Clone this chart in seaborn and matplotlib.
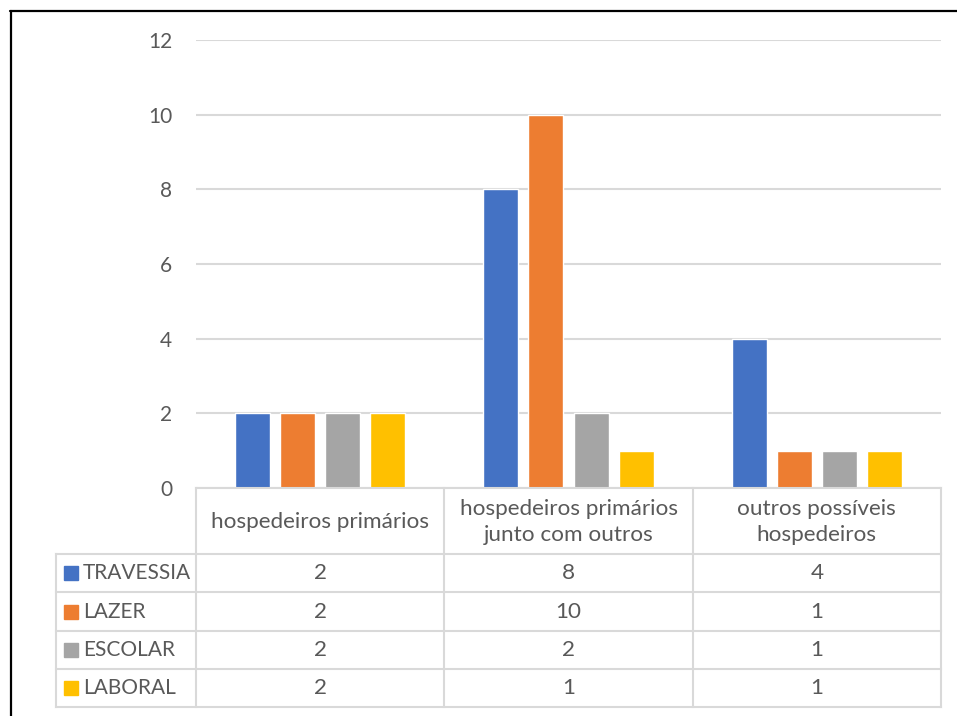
import matplotlib
matplotlib.use("Agg")
import matplotlib.pyplot as plt
import seaborn as sns
import pandas as pd
from matplotlib.lines import Line2D
from matplotlib.patches import Rectangle

# Chart data
categories = ["hospedeiros primários",
              "hospedeiros primários\njunto com outros",
              "outros possíveis\nhospedeiros"]
series = ["TRAVESSIA", "LAZER", "ESCOLAR", "LABORAL"]
travessia = [2, 8, 4]
lazer = [2, 10, 1]
escolar = [2, 2, 1]
laboral = [2, 1, 1]
y_ticks = [0, 2, 4, 6, 8, 10, 12]
colors = ["#4472C4", "#ED7D31", "#A5A5A5", "#FFC000"]

values = [travessia, lazer, escolar, laboral]
df = pd.DataFrame({
    "categoria": [c for _ in series for c in categories],
    "grupo": [s for s in series for _ in categories],
    "valor": [v for vals in values for v in vals],
})

sns.set_style("white")
plt.rcParams["font.family"] = ["Lato", "DejaVu Sans"]

TXT = "#595959"
GRID = "#D9D9D9"
FS = 16.2      # header labels and table values
FS_SMALL = 15  # axis ticks and series names

W, H = 957, 716
fig = plt.figure(figsize=(W / 100, H / 100), dpi=100)

# plot area in pixel terms
L, R, T, B = 196, 941, 40, 488
ax = fig.add_axes([L / W, 1 - B / H, (R - L) / W, (B - T) / H])

sns.barplot(data=df, x="categoria", y="valor", hue="grupo",
            order=categories, hue_order=series, palette=colors,
            saturation=1, width=0.726, gap=0.222, errorbar=None,
            legend=False, ax=ax)

ax.set_xlim(-0.5, len(categories) - 0.5)
ax.set_ylim(0, 12)
ax.set_yticks(y_ticks)
ax.set_yticklabels([str(t) for t in y_ticks], fontsize=FS_SMALL, color=TXT)
ax.tick_params(axis="y", length=0, pad=17)
ax.set_xticks([])
ax.set_xlabel("")
ax.set_ylabel("")
ax.yaxis.grid(True, color=GRID, lw=1.5)
ax.set_axisbelow(True)
for s in ax.spines.values():
    s.set_visible(False)


def ax_x(px):
    return (px - L) / (R - L)


def ax_y(py):
    return (B - py) / (B - T)


# data table below the plot
xt = ax.get_xaxis_transform()
header_bottom = 554
row_edges = [554, 592, 631, 669, 707]
legend_left = 56
line_kw = dict(color=GRID, lw=1.5, clip_on=False, solid_capstyle="projecting")

ax.add_line(Line2D([ax_x(L), ax_x(R)], [ax_y(B), ax_y(B)], transform=ax.transAxes, **line_kw))
for ry in row_edges:
    ax.add_line(Line2D([ax_x(legend_left), ax_x(R)], [ax_y(ry), ax_y(ry)],
                       transform=ax.transAxes, **line_kw))
ax.add_line(Line2D([ax_x(legend_left)] * 2, [ax_y(row_edges[0]), ax_y(row_edges[-1])],
                   transform=ax.transAxes, **line_kw))
for bx in [i - 0.5 for i in range(len(categories) + 1)]:
    ax.add_line(Line2D([bx, bx], [ax_y(B), ax_y(row_edges[-1])], transform=xt, **line_kw))

# header labels
for i, cat in enumerate(categories):
    ax.text(i, ax_y((B + header_bottom) / 2 + 1), cat, transform=xt, ha="center",
            va="center", fontsize=FS, color=TXT, linespacing=1.4, clip_on=False)

# rows: legend key + values
for r, (name, vals, col) in enumerate(zip(series, values, colors)):
    top, bot = row_edges[r], row_edges[r + 1]
    cy = ax_y((top + bot) / 2)
    ax.add_patch(Rectangle((ax_x(64), ax_y((top + bot) / 2 + 7)), 14 / (R - L), 14 / (B - T),
                           transform=ax.transAxes, color=col, clip_on=False))
    ax.text(ax_x(83), cy, name, transform=ax.transAxes, ha="left", va="center",
            fontsize=FS_SMALL, color=TXT, clip_on=False)
    for i, v in enumerate(vals):
        ax.text(i, cy, str(v), transform=xt, ha="center", va="center",
                fontsize=FS, color=TXT, clip_on=False)

# outer frame (left and top edges)
fig.add_artist(Line2D([10.5 / W, 10.5 / W], [0, 1 - 10.5 / H], color="black", lw=1.6))
fig.add_artist(Line2D([10 / W, 1], [1 - 10.5 / H, 1 - 10.5 / H], color="black", lw=1.6))

fig.savefig("out.png", dpi=100, facecolor="white")
